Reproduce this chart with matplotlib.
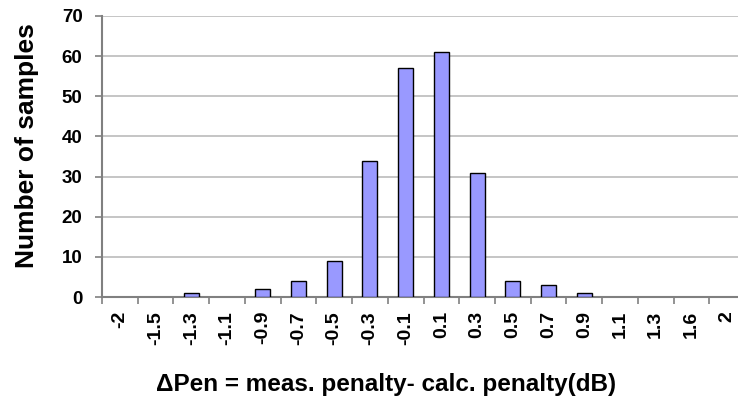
import numpy as np
import matplotlib
matplotlib.use("Agg")
import matplotlib.pyplot as plt

plt.rcParams["font.family"] = ["Liberation Sans", "DejaVu Sans"]
plt.rcParams["font.weight"] = "bold"

# histogram bins (dB) and sample counts
bins = ["-2", "-1.5", "-1.3", "-1.1", "-0.9", "-0.7", "-0.5", "-0.3", "-0.1",
        "0.1", "0.3", "0.5", "0.7", "0.9", "1.1", "1.3", "1.6", "2"]
counts = [0, 0, 1, 0, 2, 4, 9, 34, 57, 61, 31, 4, 3, 1, 0, 0, 0, 0]

fig = plt.figure(figsize=(7.38, 4.0), dpi=100)
ax = fig.add_axes([102 / 738, 1 - 297 / 400, 643 / 738, 281 / 400])

x = np.arange(len(bins))
# empty bins get no outline so nothing shows on the baseline
edge_w = [1.0 if c > 0 else 0 for c in counts]
ax.bar(x, counts, width=0.42, color="#9999ff", edgecolor="black",
       linewidth=edge_w, zorder=3)

ax.set_xlim(-0.5, len(bins) - 0.5)
ax.set_ylim(0, 70)
ax.set_yticks(np.arange(0, 71, 10))
ax.yaxis.grid(True, color="#c0c0c0", linewidth=1.3, zorder=0)

ax.set_xticks(x)
ax.set_xticklabels(bins, rotation=90, fontsize=14, fontweight="bold")
ax.set_xticks(np.arange(-0.5, len(bins)), minor=True)
ax.tick_params(axis="x", which="major", length=0, pad=10)
ax.tick_params(axis="x", which="minor", length=5, color="#808080", width=1.2)
ax.tick_params(axis="y", length=5, color="#808080", width=1.2,
               labelsize=13.5, pad=9)
for lbl in ax.get_yticklabels():
    lbl.set_fontweight("bold")

for side in ["top", "right"]:
    ax.spines[side].set_visible(False)
for side in ["left", "bottom"]:
    ax.spines[side].set_color("#808080")
    ax.spines[side].set_linewidth(1.5)

fig.text(27 / 738, 1 - 146 / 400, "Number of samples", rotation=90,
         ha="center", va="center", fontsize=19, fontweight="bold")
fig.text(386 / 738, 1 - 384 / 400,
         "\u0394Pen = meas. penalty- calc. penalty(dB)",
         ha="center", va="center", fontsize=17.5, fontweight="bold")

fig.savefig("out.png", dpi=100)
